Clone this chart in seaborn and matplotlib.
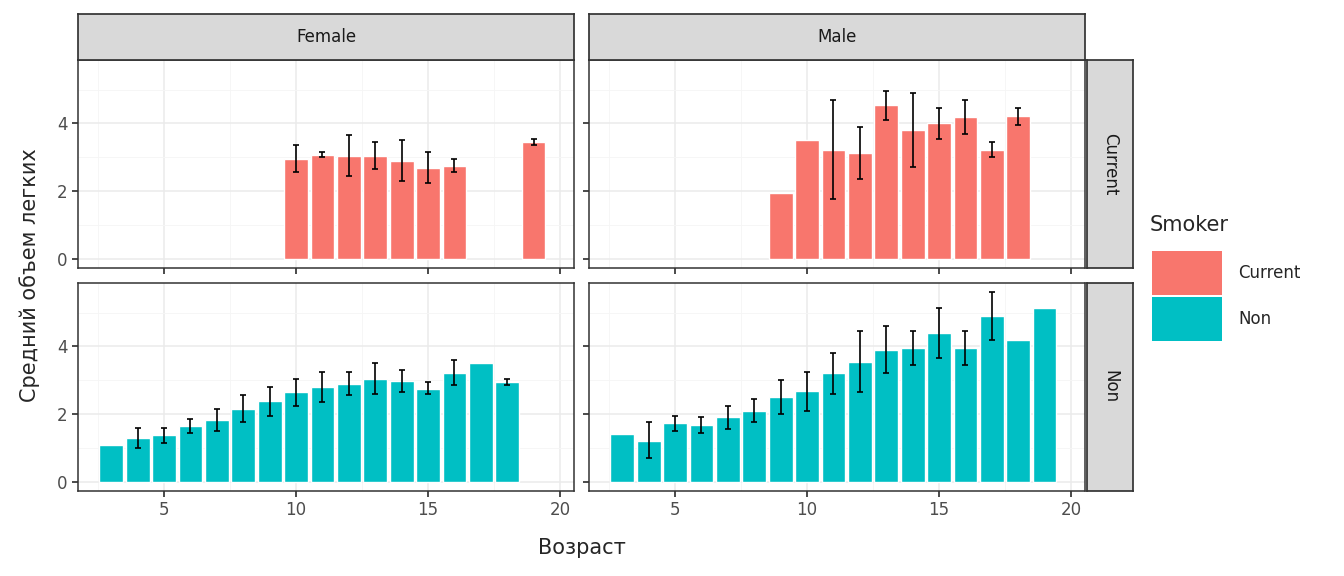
import numpy as np
import pandas as pd
import matplotlib
matplotlib.use("Agg")
import matplotlib.pyplot as plt
import seaborn as sns

# mean lung volume by age, with error bar bounds (nan = no error bar)
fc_age = [10, 11, 12, 13, 14, 15, 16, 19]
fc_val = [2.95, 3.07, 3.05, 3.05, 2.9, 2.68, 2.75, 3.45]
fc_lo = [2.55, 3.0, 2.45, 2.65, 2.3, 2.25, 2.55, 3.35]
fc_hi = [3.35, 3.15, 3.65, 3.45, 3.5, 3.15, 2.95, 3.55]

mc_age = [9, 10, 11, 12, 13, 14, 15, 16, 17, 18]
mc_val = [1.95, 3.5, 3.22, 3.12, 4.55, 3.8, 4.0, 4.2, 3.22, 4.22]
mc_lo = [np.nan, np.nan, 1.75, 2.35, 4.1, 2.7, 3.55, 3.7, 3.0, 3.95]
mc_hi = [np.nan, np.nan, 4.7, 3.9, 4.95, 4.9, 4.45, 4.7, 3.45, 4.45]

fn_age = list(range(3, 19))
fn_val = [1.08, 1.3, 1.38, 1.65, 1.82, 2.15, 2.38, 2.65, 2.8, 2.9, 3.05, 2.98, 2.75, 3.2, 3.5, 2.95]
fn_lo = [np.nan, 1.0, 1.15, 1.45, 1.5, 1.75, 1.95, 2.25, 2.35, 2.55, 2.6, 2.65, 2.6, 2.85, np.nan, 2.85]
fn_hi = [np.nan, 1.6, 1.6, 1.85, 2.15, 2.55, 2.8, 3.05, 3.25, 3.25, 3.5, 3.3, 2.95, 3.6, np.nan, 3.05]

mn_age = list(range(3, 20))
mn_val = [1.4, 1.2, 1.72, 1.68, 1.9, 2.1, 2.5, 2.68, 3.22, 3.55, 3.9, 3.95, 4.4, 3.95, 4.9, 4.2, 5.15]
mn_lo = [np.nan, 0.7, 1.5, 1.45, 1.55, 1.75, 2.0, 2.1, 2.6, 2.65, 3.2, 3.45, 3.65, 3.45, 4.2, np.nan, np.nan]
mn_hi = [np.nan, 1.75, 1.95, 1.9, 2.25, 2.45, 3.0, 3.25, 3.8, 4.45, 4.6, 4.45, 5.15, 4.45, 5.6, np.nan, np.nan]

COLORS = {"Current": "#F8766D", "Non": "#00BFC4"}

sns.set_theme(style="white")
plt.rcParams['font.family'] = ['DejaVu Sans']
W, H = 1344, 576
fig = plt.figure(figsize=(W / 100, H / 100), dpi=100)


def box(x0, y0, x1, y1):
    return [x0 / W, 1 - y1 / H, (x1 - x0) / W, (y1 - y0) / H]


panels = [
    ("Current", 0, fc_age, fc_val, fc_lo, fc_hi),
    ("Current", 1, mc_age, mc_val, mc_lo, mc_hi),
    ("Non", 0, fn_age, fn_val, fn_lo, fn_hi),
    ("Non", 1, mn_age, mn_val, mn_lo, mn_hi),
]
xcols = [(78, 574), (589, 1085)]
yrows = {"Current": (60, 268), "Non": (283, 491)}

for smoker, col, age, val, lo, hi in panels:
    x0, x1 = xcols[col]
    y0, y1 = yrows[smoker]
    ax = fig.add_axes(box(x0, y0, x1, y1))
    df = pd.DataFrame({"age": age, "val": val})
    sns.barplot(data=df, x="age", y="val", native_scale=True, color=COLORS[smoker],
                width=0.9, ax=ax, saturation=1, errorbar=None)
    lo_a, hi_a, v = np.array(lo), np.array(hi), np.array(val)
    m = ~np.isnan(lo_a)
    ax.errorbar(np.array(age)[m], v[m], yerr=[v[m] - lo_a[m], hi_a[m] - v[m]],
                fmt="none", ecolor="black", elinewidth=1.2, capsize=2.5, capthick=1.2)
    ax.set_xlim(1.74, 20.53)
    ax.set_ylim(-0.28, 5.88)
    ax.set_xticks([5, 10, 15, 20])
    ax.set_xticks([2.5, 7.5, 12.5, 17.5], minor=True)
    ax.set_yticks([0, 2, 4])
    ax.set_yticks([1, 3, 5], minor=True)
    ax.grid(True, which="major", color="#EBEBEB", lw=1.1)
    ax.grid(True, which="minor", color="#F5F5F5", lw=0.6)
    ax.set_axisbelow(True)
    for s in ax.spines.values():
        s.set_color("#333333")
        s.set_linewidth(1.1)
    ax.tick_params(which="major", length=4, color="#333333", labelsize=12, labelcolor="#4D4D4D",
                   left=True, bottom=True)
    ax.tick_params(which="minor", length=0)
    ax.set_xlabel("")
    ax.set_ylabel("")
    if col == 1:
        ax.set_yticklabels([])
    if smoker == "Current":
        ax.set_xticklabels([])
    if smoker == "Current":
        sx = fig.add_axes(box(x0, 14, x1, 60))
        sx.set_facecolor("#D9D9D9")
        sx.set_xticks([]); sx.set_yticks([])
        for s in sx.spines.values():
            s.set_color("#333333")
        sx.text(0.5, 0.5, ["Female", "Male"][col], ha="center", va="center", fontsize=12,
                color="#1A1A1A", transform=sx.transAxes)
    if col == 1:
        sy = fig.add_axes(box(1087, y0, 1133, y1))
        sy.set_facecolor("#D9D9D9")
        sy.set_xticks([]); sy.set_yticks([])
        for s in sy.spines.values():
            s.set_color("#333333")
        sy.text(0.5, 0.5, smoker, ha="center", va="center", rotation=-90, fontsize=12,
                color="#1A1A1A", transform=sy.transAxes)

fig.text(582 / W, 1 - 548 / H, "Возраст", ha="center", va="center", fontsize=15)
fig.text(30 / W, 1 - 275 / H, "Средний объем легких", ha="center", va="center",
         rotation=90, fontsize=15)

# legend
fig.text(1150 / W, 1 - 225 / H, "Smoker", ha="left", va="center", fontsize=15)
for i, k in enumerate(["Current", "Non"]):
    yc = 273 + i * 46
    lx = fig.add_axes(box(1152, yc - 22, 1222, yc + 22))
    lx.set_facecolor(COLORS[k])
    lx.set_xticks([]); lx.set_yticks([])
    for s in lx.spines.values():
        s.set_visible(False)
    fig.text(1238 / W, 1 - yc / H, k, ha="left", va="center", fontsize=12)

fig.savefig("out.png", dpi=100)
